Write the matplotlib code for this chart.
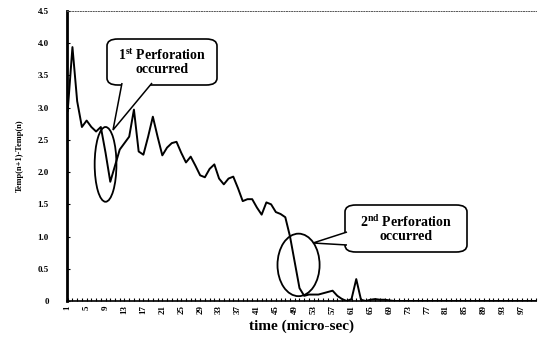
import matplotlib
matplotlib.use('Agg')
import matplotlib.pyplot as plt
from matplotlib.patches import Ellipse, FancyBboxPatch, Polygon

# time index (micro-sec) and temperature differences
time = list(range(1, 101))
temp_diff = [
    2.95, 3.94, 3.1, 2.7, 2.8, 2.7, 2.63, 2.7, 2.3, 1.85,
    2.1, 2.35, 2.45, 2.55, 2.97, 2.32, 2.27, 2.55, 2.86, 2.55,
    2.26, 2.38, 2.45, 2.47, 2.3, 2.15, 2.24, 2.1, 1.95, 1.92,
    2.05, 2.12, 1.9, 1.81, 1.9, 1.93, 1.75, 1.55, 1.58, 1.58,
    1.45, 1.34, 1.53, 1.5, 1.38, 1.35, 1.3, 1.0, 0.6, 0.2,
    0.08, 0.1, 0.1, 0.1, 0.12, 0.14, 0.16, 0.08, 0.03, 0.0,
    0.03, 0.34, 0.02, 0.0, 0.02, 0.03, 0.02, 0.02, 0.01, 0.0,
] + [0.0] * 30

y_ticks = [0, 0.5, 1.0, 1.5, 2.0, 2.5, 3.0, 3.5, 4.0, 4.5]
y_tick_labels = ['0', '0.5', '1.0', '1.5', '2.0', '2.5', '3.0', '3.5', '4.0', '4.5']
x_ticks = list(range(1, 101, 4))

plt.rcParams['font.family'] = 'Liberation Serif'
plt.rcParams['font.weight'] = 'bold'
plt.rcParams['mathtext.fontset'] = 'custom'
plt.rcParams['mathtext.rm'] = 'Liberation Serif:bold'
plt.rcParams['mathtext.it'] = 'Liberation Serif:bold'

W, H = 539, 345
fig = plt.figure(figsize=(W / 100, H / 100), dpi=100)
ax = fig.add_axes([67 / W, 1 - 301 / H, 469 / W, 290 / H])

ax.plot(time, temp_diff, color='black', lw=1.4)

ax.set_xlim(0.85, 100.0)
ax.set_ylim(0, 4.5)

ax.set_yticks(y_ticks)
ax.set_yticklabels(y_tick_labels, fontsize=6.5, fontweight='bold')
ax.set_xticks(x_ticks)
ax.set_xticklabels([str(t) for t in x_ticks], fontsize=6.5, fontweight='bold', rotation=90)
ax.set_xticks(time, minor=True)
ax.tick_params(axis='y', direction='in', length=2, width=0.8, pad=13)
ax.tick_params(axis='x', which='both', direction='in', length=2, width=0.8, pad=3)

ax.spines['right'].set_visible(False)
ax.spines['top'].set_linestyle(':')
ax.spines['top'].set_color('#555555')
ax.spines['top'].set_linewidth(0.7)
ax.spines['left'].set_linewidth(2.0)
ax.spines['bottom'].set_linewidth(1.2)

ax.set_xlabel('time (micro-sec)', fontsize=11, fontweight='bold', labelpad=4)
ax.set_ylabel('Temp(n+1)-Temp(n)', fontsize=6, fontweight='bold', labelpad=10)

# circles around the perforation points
ax.add_patch(Ellipse((9.0, 2.12), 4.6, 1.16, fill=False, ec='black', lw=1.3, zorder=4))
ax.add_patch(Ellipse((49.8, 0.56), 8.9, 0.97, fill=False, ec='black', lw=1.3, zorder=4))


def px(x, y):
    # pixel position (top-left origin) -> figure fraction
    return (x / W, 1 - y / H)


def callout(box, tail, text):
    x0, y0, x1, y1 = box
    bx, by = px(x0, y1)
    bw, bh = (x1 - x0) / W, (y1 - y0) / H
    fig.add_artist(FancyBboxPatch((bx, by), bw, bh, boxstyle='round,pad=0,rounding_size=0.02',
                                  transform=fig.transFigure, fc='white', ec='black', lw=1.2, zorder=5))
    fig.add_artist(Polygon([px(*p) for p in tail], closed=False, transform=fig.transFigure,
                           fc='white', ec='black', lw=1.1, zorder=6))
    cx, cy = px((x0 + x1) / 2, (y0 + y1) / 2)
    fig.text(cx, cy, text, ha='center', va='center', fontsize=10, fontweight='bold',
             linespacing=1.05, zorder=7)


callout((107, 39, 217, 85), [(122, 83), (113, 130), (152, 83)],
        '1$^{\\mathrm{st}}$ Perforation\noccurred')
callout((345, 205, 467, 252), [(347, 232), (313, 243), (347, 245)],
        '2$^{\\mathrm{nd}}$ Perforation\noccurred')

plt.savefig('out.png', dpi=100)
